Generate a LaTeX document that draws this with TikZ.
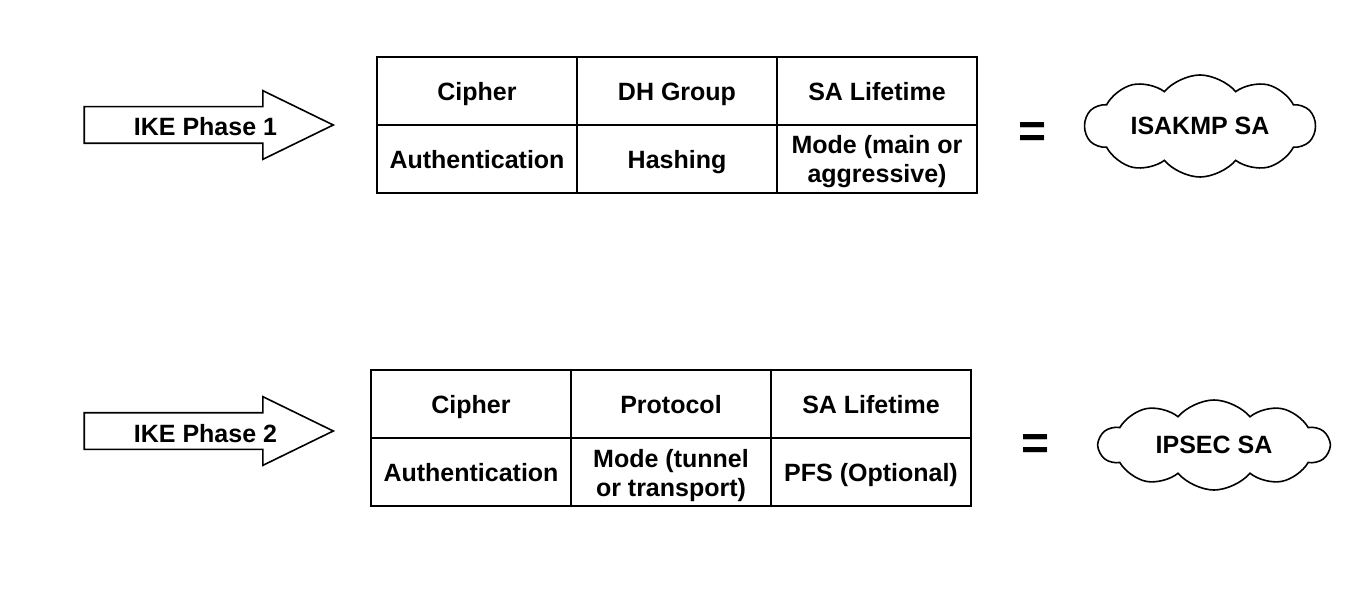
\documentclass[tikz,border=0pt]{standalone}
\usepackage{fontspec}
\setmainfont{Liberation Sans}
\usetikzlibrary{positioning,shapes.arrows,shapes.symbols}

\begin{document}
\begin{tikzpicture}[x=0.5pt, y=-0.5pt,
  every node/.style={font=\bfseries\fontsize{12.5}{14.5}\selectfont},
  cell/.style={draw, line width=0.8pt, outer sep=0pt, inner sep=0pt,
    minimum width=100pt, minimum height=34pt, align=center,
    text height=11pt, text depth=1.5pt},
  cell2/.style={cell, text height=25.5pt},
  phase/.style={draw, line width=0.8pt, single arrow, single arrow head extend=8pt,
    single arrow tip angle=52, minimum height=124.5pt, inner ysep=2.75pt,
    text height=11.5pt, text depth=0.5pt},
  sa/.style={draw, line width=0.8pt, cloud, cloud puffs=10, cloud puff arc=100,
    cloud ignores aspect, minimum width=115pt},
  eq/.style={font=\bfseries\fontsize{24}{24}\selectfont}]
\useasboundingbox (0,0) rectangle (1368,588);
% IKE phase 1
\node[phase] (p1) at (190,125) {\hspace*{15.5pt}IKE Phase 1};
\node[cell] (a1) at (477,91) {Cipher};
\node[cell, right=0pt of a1] (a2) {DH Group};
\node[cell, right=0pt of a2] (a3) {SA Lifetime};
\node[cell, below=0pt of a1] (a4) {Authentication};
\node[cell, below=0pt of a2] (a5) {Hashing};
\node[cell2, below=0pt of a3] (a6) {Mode (main or\\ aggressive)};
\node[eq] (e1) at (1032,135) {=};
\node[sa, minimum height=51pt] (isakmp) at (1200,126) {ISAKMP SA};
% IKE phase 2
\node[phase] (p2) at (190,431) {\hspace*{15.5pt}IKE Phase 2};
\node[cell] (b1) at (471,404) {Cipher};
\node[cell, right=0pt of b1] (b2) {Protocol};
\node[cell, right=0pt of b2] (b3) {SA Lifetime};
\node[cell, below=0pt of b1] (b4) {Authentication};
\node[cell2, below=0pt of b2] (b5) {Mode (tunnel\\ or transport)};
\node[cell, below=0pt of b3] (b6) {PFS (Optional)};
\node[eq] (e2) at (1035,447) {=};
\node[sa, minimum height=45pt] (ipsec) at (1214,445) {IPSEC SA};
\end{tikzpicture}
\end{document}
